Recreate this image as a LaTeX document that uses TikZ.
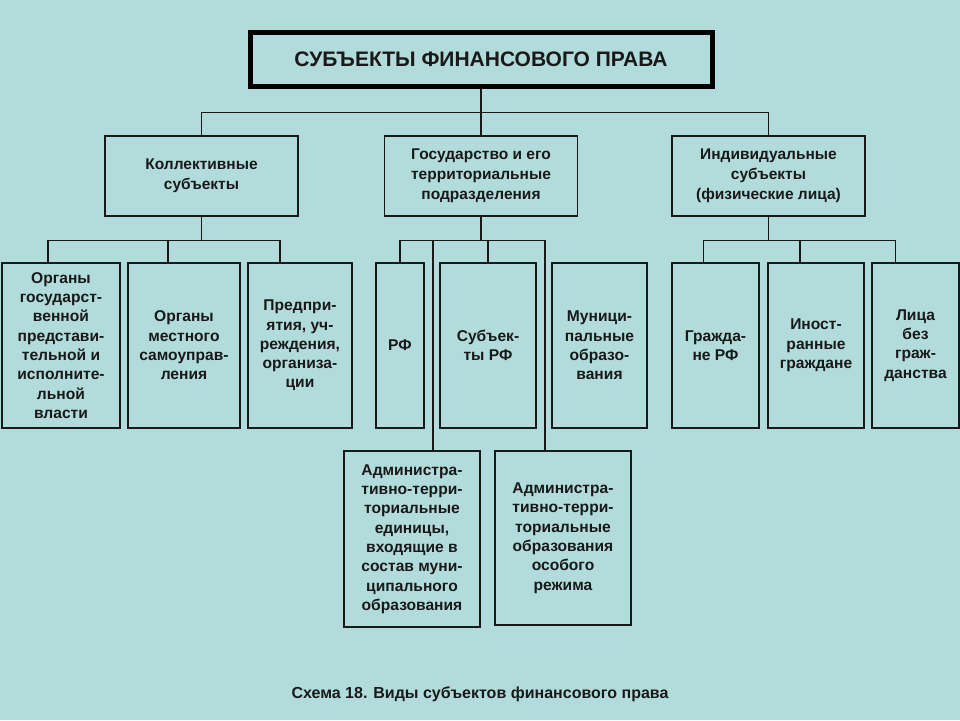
\documentclass[tikz,border=0pt]{standalone}
\usepackage{fontspec}
\setmainfont{Liberation Sans}
\definecolor{bgteal}{RGB}{178,220,219}
\definecolor{ink}{RGB}{25,25,25}
\begin{document}
\begin{tikzpicture}[x=1pt,y=-1pt,
  box/.style={draw=ink,line width=1.4pt,align=center,inner sep=1pt,
    font=\bfseries\fontsize{15.6}{19.3}\selectfont,text=ink},
  headbox/.style={box,font=\bfseries\fontsize{15.5}{20}\selectfont},
  wire/.style={draw=ink,line width=1.2pt}]

\fill[bgteal] (0,0) rectangle (960,720);
\useasboundingbox (0,0) rectangle (960,720);

% title
\node[draw=black,line width=5pt,minimum width=462,minimum height=54,
  font=\bfseries\fontsize{21}{25}\selectfont,text=ink] (title) at (481,59) {СУБЪЕКТЫ ФИНАНСОВОГО ПРАВА};

% second level
\node[headbox,minimum width=193,minimum height=80] (coll) at (201.5,176) {Коллективные\\субъекты};
\node[headbox,minimum width=193,minimum height=80] (gov) at (481,176) {Государство и его\\территориальные\\подразделения};
\node[headbox,minimum width=193,minimum height=80] (ind) at (768.5,176) {Индивидуальные\\субъекты\\(физические лица)};

% third level
\node[box,minimum width=118,minimum height=165] (org1) at (61,345.5) {Органы\\государст-\\венной\\представи-\\тельной и\\исполните-\\льной\\власти};
\node[box,minimum width=112,minimum height=165] (org2) at (184,345.5) {Органы\\местного\\самоуправ-\\ления};
\node[box,minimum width=104,minimum height=165] (org3) at (300,345.5) {Предпри-\\ятия, уч-\\реждения,\\организа-\\ции};

\node[box,minimum width=48,minimum height=165] (rf) at (400,345.5) {РФ};
\node[box,minimum width=96,minimum height=165] (subrf) at (488,345.5) {Субъек-\\ты РФ};
\node[box,minimum width=95,minimum height=165] (mun) at (599.5,345.5) {Муници-\\пальные\\образо-\\вания};

\node[box,minimum width=87,minimum height=165] (cit) at (715.5,345.5) {Гражда-\\не РФ};
\node[box,minimum width=96,minimum height=165] (frn) at (816,345.5) {Иност-\\ранные\\граждане};
\node[box,minimum width=87,minimum height=165] (sgr) at (915.5,345.5) {Лица\\без\\граж-\\данства};

% fourth level
\node[box,minimum width=136,minimum height=176] (ata) at (412,539) {Администра-\\тивно-терри-\\ториальные\\единицы,\\входящие в\\состав муни-\\ципального\\образования};
\node[box,minimum width=136,minimum height=174] (atb) at (563,538) {Администра-\\тивно-терри-\\ториальные\\образования\\особого\\режима};

% connectors
\draw[wire] (title.south) -- ++(0,24) coordinate (tb);
\draw[wire] (coll.north) |- (tb) -| (ind.north);
\draw[wire] (tb) -- (gov.north);

\draw[wire] (coll.south) -- ++(0,24) coordinate (cb);
\draw[wire] ([xshift=-13pt]org1.north) |- (cb) -| ([xshift=-20pt]org3.north);
\draw[wire] ([xshift=-16pt]org2.north) -- ([xshift=-16pt]org2.north |- cb);

\draw[wire] (gov.south) -- ++(0,24) coordinate (gb);
\draw[wire] (rf.north) |- (gb) -| ([xshift=-18pt]atb.north);
\draw[wire] ([xshift=21pt]ata.north) -- ([xshift=21pt]ata.north |- gb);
\draw[wire] (subrf.north) -- (subrf.north |- gb);

\draw[wire] (ind.south) -- ++(0,24) coordinate (ib);
\draw[wire] ([xshift=-12pt]cit.north) |- (ib) -| ([xshift=-20pt]sgr.north);
\draw[wire] ([xshift=-16pt]frn.north) -- ([xshift=-16pt]frn.north |- ib);

% caption
\node[font=\bfseries\fontsize{16}{19}\selectfont,text=ink] (caption) at (480,694) {Схема 18. Виды субъектов финансового права};

\end{tikzpicture}
\end{document}
